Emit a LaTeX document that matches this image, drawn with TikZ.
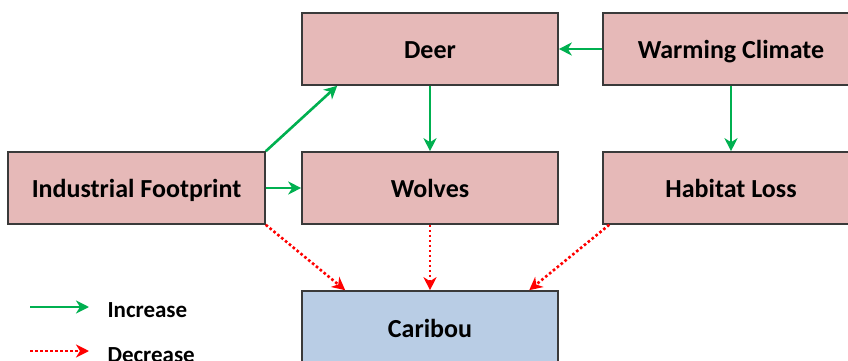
\documentclass[tikz,border=0pt]{standalone}
\usepackage{fontspec}
\setmainfont{Carlito}
\usetikzlibrary{arrows.meta,calc}
\definecolor{boxpink}{HTML}{E6B9B8}
\definecolor{boxblue}{HTML}{B9CDE5}
\definecolor{incgreen}{HTML}{00B050}
\definecolor{decred}{HTML}{FF0000}
\definecolor{edge}{HTML}{3A3A3A}
\tikzset{
  box/.style={draw=edge, line width=1.6pt, fill=boxpink, minimum width=256pt, minimum height=72pt, inner sep=0pt,
    text height=20pt, text depth=0.3pt,
    font=\fontsize{26}{30}\selectfont\bfseries, text=black},
  incr/.style={draw=incgreen, line width=2.6pt, -{Stealth[length=13pt,width=13pt,inset=4pt]}},
  decr/.style={draw=decred, line width=2.6pt, dash pattern=on 2.6pt off 2.4pt, -{Stealth[length=13pt,width=13pt,inset=4pt]}},
  legtext/.style={anchor=west, font=\fontsize{23}{27}\selectfont\bfseries, text=black}
}
\begin{document}
\begin{tikzpicture}[x=1pt,y=-1pt]
\useasboundingbox (0,0) rectangle (848,361);
\node[box] (deer) at (430,49) {Deer};
\node[box] (warm) at (731,49) {Warming Climate};
\node[box, minimum width=257pt] (ind) at (136.5,188) {Industrial Footprint};
\node[box] (wolves) at (430,188) {Wolves};
\node[box] (hab) at (731,188) {Habitat Loss};
\node[box, fill=boxblue, minimum height=74pt] (car) at (430,328) {Caribou};
% connectors
\draw[incr] (warm.west) -- (deer.east);
\draw[incr] (deer.south) -- (wolves.north);
\draw[incr] (warm.south) -- (hab.north);
\draw[incr] (ind.north east) -- ($(deer.south west)+(36,0)$);
\draw[incr] (ind.east) -- (wolves.west);
\draw[decr] (ind.south east) -- ($(car.north west)+(44,0)$);
\draw[decr] (wolves.south) -- (car.north);
\draw[decr] ($(hab.south west)+(7,0)$) -- ($(car.north west)+(228,0)$);
% legend
\coordinate (l1a) at (30,307);
\coordinate (l1b) at (89,307);
\coordinate (l2a) at (30,351);
\coordinate (l2b) at (89,351);
\draw[incr] (l1a) -- (l1b);
\draw[decr] (l2a) -- (l2b);
\node[legtext] (linc) at (104,310) {Increase};
\node[legtext] (ldec) at (104,355) {Decrease};
\end{tikzpicture}
\end{document}
